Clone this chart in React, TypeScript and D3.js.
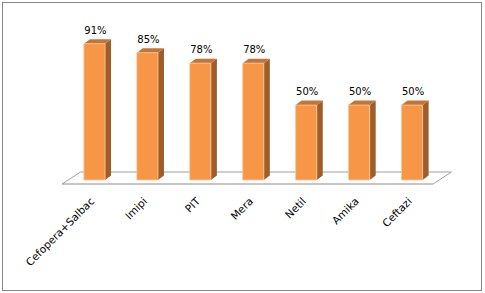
import React from "react";
import * as d3 from "d3";

const categories = ["Cefopera+Salbac", "Imipi", "PIT", "Mera", "Netil", "Amika", "Ceftazi"];
const values = [91, 85, 78, 78, 50, 50, 50];
const valueLabels = ["91%", "85%", "78%", "78%", "50%", "50%", "50%"];

const W = 485;
const H = 293;
const FONT = "'DejaVu Sans', Verdana, sans-serif";

export default function App() {
  const x = d3
    .scaleBand<string>()
    .domain(categories)
    .range([68, 438.5])
    .paddingInner(0.6)
    .paddingOuter(0.3);
  const y = d3.scaleLinear().domain([0, 100]).range([180, 30.2]);

  const bw = x.bandwidth();
  const ddx = 6;
  const ddy = -4.5;
  const base = y(0);

  const floorFrontY = base + 4;
  const floorBackY = base - 8;
  const floorFL = 62;
  const floorFR = 433;
  const fdx = 18.5;

  const floorPath = `M${floorFL},${floorFrontY} L${floorFR},${floorFrontY} L${floorFR + fdx},${floorBackY} L${floorFL + fdx},${floorBackY} Z`;

  return (
    <svg
      width={W}
      height={H}
      style={{ position: "absolute", left: 0, top: 0, background: "#fff" }}
    >
      <rect x={2.5} y={2.5} width={479} height={288} fill="#fff" stroke="#868686" strokeWidth={1} />
      <path d={floorPath} fill="#fff" stroke="none" />
      <line x1={floorFL + fdx} y1={floorBackY} x2={floorFR + fdx} y2={floorBackY} stroke="#bfbfbf" strokeWidth={1.5} />
      <line x1={floorFL} y1={floorFrontY} x2={floorFL + fdx} y2={floorBackY} stroke="#a0a0a0" strokeWidth={1} />
      <line x1={floorFR} y1={floorFrontY} x2={floorFR + fdx} y2={floorBackY} stroke="#a0a0a0" strokeWidth={1} />
      <line x1={floorFL} y1={floorFrontY} x2={floorFR} y2={floorFrontY} stroke="#8c8c8c" strokeWidth={1} />
      {categories.map((c, i) => {
        const x0 = x(c)!;
        const x1 = x0 + bw;
        const yt = y(values[i]);
        const front = `M${x0},${yt} L${x1},${yt} L${x1},${base} L${x0},${base} Z`;
        const side = `M${x1},${yt} L${x1 + ddx},${yt + ddy} L${x1 + ddx},${base + ddy} L${x1},${base} Z`;
        const top = `M${x0},${yt} L${x0 + ddx},${yt + ddy} L${x1 + ddx},${yt + ddy} L${x1},${yt} Z`;
        return (
          <g key={c}>
            <path d={side} fill="#9e5e2b" />
            <path d={top} fill="#c0763a" />
            <path d={front} fill="#f79646" stroke="#fbc79c" strokeWidth={0.8} />
            <text
              x={x0 + bw / 2 + 1}
              y={yt + ddy - 5.5}
              textAnchor="middle"
              fontFamily={FONT}
              fontSize={10}
              fill="#000"
            >
              {valueLabels[i]}
            </text>
            <text
              transform={`translate(${x0 + bw / 2 + 0.5},${base + 22}) rotate(-45)`}
              textAnchor="end"
              fontFamily={FONT}
              fontSize={10.5}
              fill="#000"
            >
              {c}
            </text>
          </g>
        );
      })}
    </svg>
  );
}
